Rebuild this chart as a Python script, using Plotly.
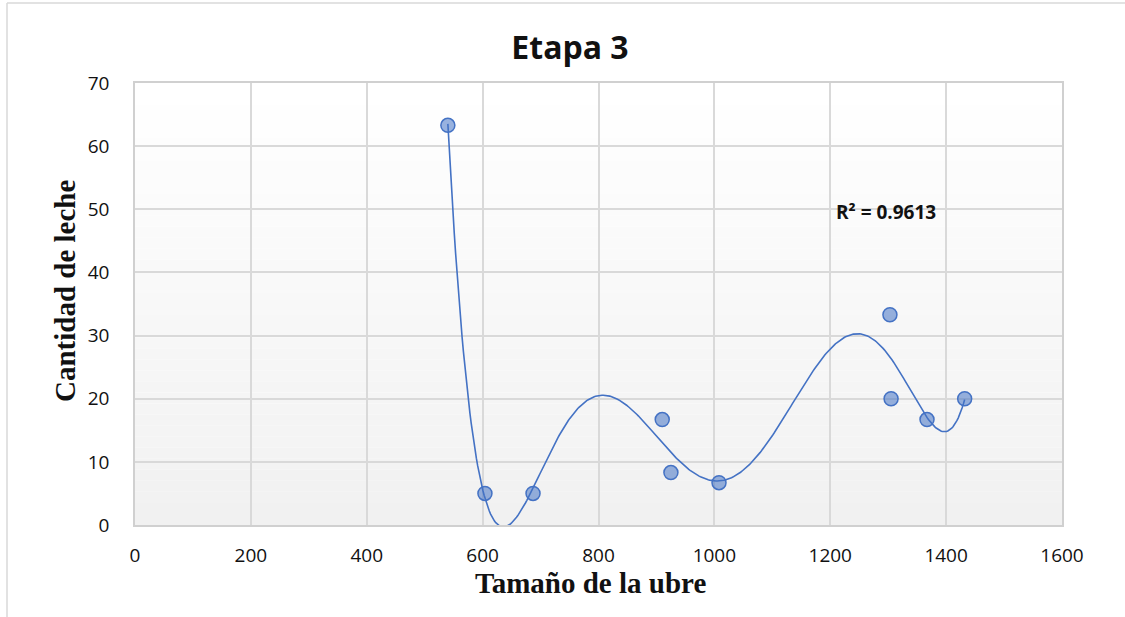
import numpy as np
import plotly.graph_objects as go

# Stage 3 measurements
tamano_ubre = [540, 604, 687, 910, 925, 1008, 1303, 1305, 1367, 1432]
cantidad_leche = [63.3, 5.0, 5.0, 16.7, 8.3, 6.7, 33.3, 20.0, 16.7, 20.0]
r2_label = "R² = 0.9613"
x_ticks = [0, 200, 400, 600, 800, 1000, 1200, 1400, 1600]
y_ticks = [0, 10, 20, 30, 40, 50, 60, 70]

BLUE = "#4472c4"
SANS = "Open Sans, Liberation Sans, sans-serif"
SERIF = "Liberation Serif, Times New Roman, serif"

W, H = 1125, 617
ML, MR, MT, MB = 135, 63, 83, 92
PW, PH = W - ML - MR, H - MT - MB


def px_to_paper(px, py):
    return (px - ML) / PW, (H - MB - py) / PH


# Polynomial trendline (order 6), fitted on centred/scaled x for stability
xs = np.array(tamano_ubre, dtype=float)
ys = np.array(cantidad_leche, dtype=float)
mu, sd = xs.mean(), xs.std()
coef = np.polyfit((xs - mu) / sd, ys, 6)
xt = np.linspace(xs.min(), xs.max(), 400)
yt = np.polyval(coef, (xt - mu) / sd)

fig = go.Figure()
fig.add_trace(go.Scatter(x=xt, y=yt, mode="lines",
                         line=dict(color=BLUE, width=1.6),
                         hoverinfo="skip", showlegend=False, cliponaxis=False))
fig.add_trace(go.Scatter(x=tamano_ubre, y=cantidad_leche, mode="markers",
                         marker=dict(size=14, color="rgba(68,114,196,0.55)",
                                     line=dict(color=BLUE, width=1.5)),
                         showlegend=False, cliponaxis=False))

# Soft vertical gradient behind the plot area
shapes = []
n = 40
for i in range(n):
    t = i / (n - 1)
    g = int(round(255 - 14 * t))
    shapes.append(dict(type="rect", xref="x domain", yref="y domain",
                       x0=0, x1=1, y0=1 - (i + 1) / n, y1=1 - i / n,
                       fillcolor=f"rgb({g},{g},{g})", line=dict(width=0),
                       layer="below"))
# Chart frame: left and top edges
fx0, fy1 = px_to_paper(7, 3)
fx1, fy0 = px_to_paper(1130, 640)
frame = dict(color="#d9d9d9", width=1.5)
shapes.append(dict(type="line", xref="paper", yref="paper",
                   x0=fx0, x1=fx0, y0=fy0, y1=fy1, line=frame, layer="below"))
shapes.append(dict(type="line", xref="paper", yref="paper",
                   x0=fx0, x1=fx1, y0=fy1, y1=fy1, line=frame, layer="below"))

xt_x, xt_y = px_to_paper(590, 583)
yt_x, yt_y = px_to_paper(65, 291)

fig.update_layout(
    width=W, height=H,
    margin=dict(l=ML, r=MR, t=MT, b=MB),
    paper_bgcolor="white", plot_bgcolor="white",
    shapes=shapes,
    title=dict(text="<b>Etapa 3</b>", x=570 / W, xanchor="center",
               y=1 - 48 / H, yanchor="middle",
               font=dict(family=SANS, size=32, color="#111")),
    xaxis=dict(range=[0, 1600], tickvals=x_ticks, showgrid=True, gridcolor="#d9d9d9",
               gridwidth=1.5, showline=True, linecolor="#d0d0d0", linewidth=1.5,
               mirror=True, zeroline=False, ticks="", ticklen=0, ticklabelstandoff=12,
               tickfont=dict(family=SANS, size=19, color="#111")),
    yaxis=dict(range=[0, 70], tickvals=y_ticks, showgrid=True, gridcolor="#d9d9d9",
               gridwidth=1.5, showline=True, linecolor="#d0d0d0", linewidth=1.5,
               mirror=True, zeroline=False, ticks="", ticklen=0, ticklabelstandoff=20,
               tickfont=dict(family=SANS, size=19, color="#111")),
    annotations=[
        dict(text="<b>" + r2_label + "</b>", x=1296, y=49.5, xref="x", yref="y",
             showarrow=False, xanchor="center", yanchor="middle",
             font=dict(family=SANS, size=19, color="#111")),
        dict(text="<b>Tamaño de la ubre</b>", x=xt_x, y=xt_y,
             xref="paper", yref="paper", showarrow=False,
             xanchor="center", yanchor="middle",
             font=dict(family=SERIF, size=29, color="#111")),
        dict(text="<b>Cantidad de leche</b>", x=yt_x, y=yt_y,
             xref="paper", yref="paper", showarrow=False, textangle=-90,
             xanchor="center", yanchor="middle",
             font=dict(family=SERIF, size=29, color="#111")),
    ],
)

fig.write_html("out.html")
